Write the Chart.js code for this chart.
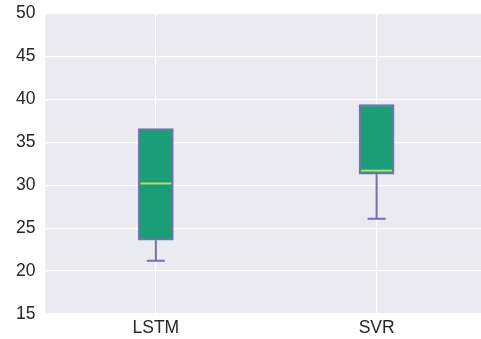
<!DOCTYPE html>
<html>
<head>
<meta charset="utf-8">
<script src="https://cdn.jsdelivr.net/npm/chart.js@4"></script>
<style>
  html, body { margin: 0; padding: 0; background: #ffffff; overflow: hidden; }
  #wrap { width: 487px; height: 344px; margin-top: -7px; }
</style>
</head>
<body>
<div id="wrap"><canvas id="boxChart"></canvas></div>
<script>
// box plot stats
const models = ['LSTM', 'SVR'];
const whiskerLow = [21.2, 26.1];
const q1 = [23.6, 31.3];
const median = [30.2, 31.7];
const q3 = [36.6, 39.4];
const whiskerHigh = [36.6, 39.4];
const yTicks = [15, 20, 25, 30, 35, 40, 45, 50];

const boxFill = '#1b9e77';
const boxEdge = '#7570b3';
const medianColor = '#b3de69';

// background of the plotting area
const plotBackground = {
    id: 'plotBackground',
    beforeDraw(chart) {
        const { ctx, chartArea } = chart;
        ctx.save();
        ctx.fillStyle = '#eaeaf2';
        ctx.fillRect(chartArea.left, chartArea.top, chartArea.right - chartArea.left, chartArea.bottom - chartArea.top);
        ctx.restore();
    }
};

// whiskers and medians, placed with the chart's own scales
const boxExtras = {
    id: 'boxExtras',
    beforeDatasetsDraw(chart) {
        const { ctx, scales } = chart;
        const x = scales.x, y = scales.y;
        ctx.save();
        ctx.strokeStyle = boxEdge;
        ctx.lineWidth = 2;
        models.forEach((m, i) => {
            const cx = x.getPixelForValue(i);
            const capHalf = 9;
            ctx.beginPath();
            if (whiskerLow[i] < q1[i]) {
                ctx.moveTo(cx, y.getPixelForValue(q1[i]));
                ctx.lineTo(cx, y.getPixelForValue(whiskerLow[i]));
                ctx.moveTo(cx - capHalf, y.getPixelForValue(whiskerLow[i]));
                ctx.lineTo(cx + capHalf, y.getPixelForValue(whiskerLow[i]));
            }
            if (whiskerHigh[i] > q3[i]) {
                ctx.moveTo(cx, y.getPixelForValue(q3[i]));
                ctx.lineTo(cx, y.getPixelForValue(whiskerHigh[i]));
                ctx.moveTo(cx - capHalf, y.getPixelForValue(whiskerHigh[i]));
                ctx.lineTo(cx + capHalf, y.getPixelForValue(whiskerHigh[i]));
            }
            ctx.stroke();
        });
        ctx.restore();
    },
    afterDatasetsDraw(chart) {
        const { ctx, scales } = chart;
        const x = scales.x, y = scales.y;
        const meta = chart.getDatasetMeta(0);
        ctx.save();
        ctx.strokeStyle = medianColor;
        ctx.lineWidth = 2;
        models.forEach((m, i) => {
            const bar = meta.data[i];
            const half = bar.width / 2 - 2;
            const cx = x.getPixelForValue(i);
            const my = y.getPixelForValue(median[i]);
            ctx.beginPath();
            ctx.moveTo(cx - half, my);
            ctx.lineTo(cx + half, my);
            ctx.stroke();
        });
        ctx.restore();
    }
};

const ctx = document.getElementById('boxChart').getContext('2d');
new Chart(ctx, {
    type: 'bar',
    data: {
        labels: models,
        datasets: [{
            data: models.map((m, i) => [q1[i], q3[i]]),
            backgroundColor: boxFill,
            borderColor: boxEdge,
            borderWidth: 2,
            borderSkipped: false,
            barThickness: 35
        }]
    },
    options: {
        responsive: true,
        maintainAspectRatio: false,
        animation: false,
        layout: { padding: { top: -5, right: 0, left: 6, bottom: -6 } },
        plugins: {
            legend: { display: false },
            tooltip: { enabled: false }
        },
        scales: {
            x: {
                offset: true,
                grid: { color: '#ffffff', lineWidth: 1.2, offset: false, drawTicks: false },
                border: { display: false },
                ticks: {
                    color: '#262626',
                    padding: 4,
                    font: { family: 'Liberation Sans', size: 17.5 }
                }
            },
            y: {
                min: 15,
                max: 50,
                afterBuildTicks(axis) { axis.ticks = yTicks.map(v => ({ value: v })); },
                grid: { color: '#ffffff', lineWidth: 1.2, drawTicks: false },
                border: { display: false },
                ticks: {
                    color: '#262626',
                    padding: 10,
                    font: { family: 'Liberation Sans', size: 17.5 }
                }
            }
        }
    },
    plugins: [plotBackground, boxExtras]
});
</script>
</body>
</html>
